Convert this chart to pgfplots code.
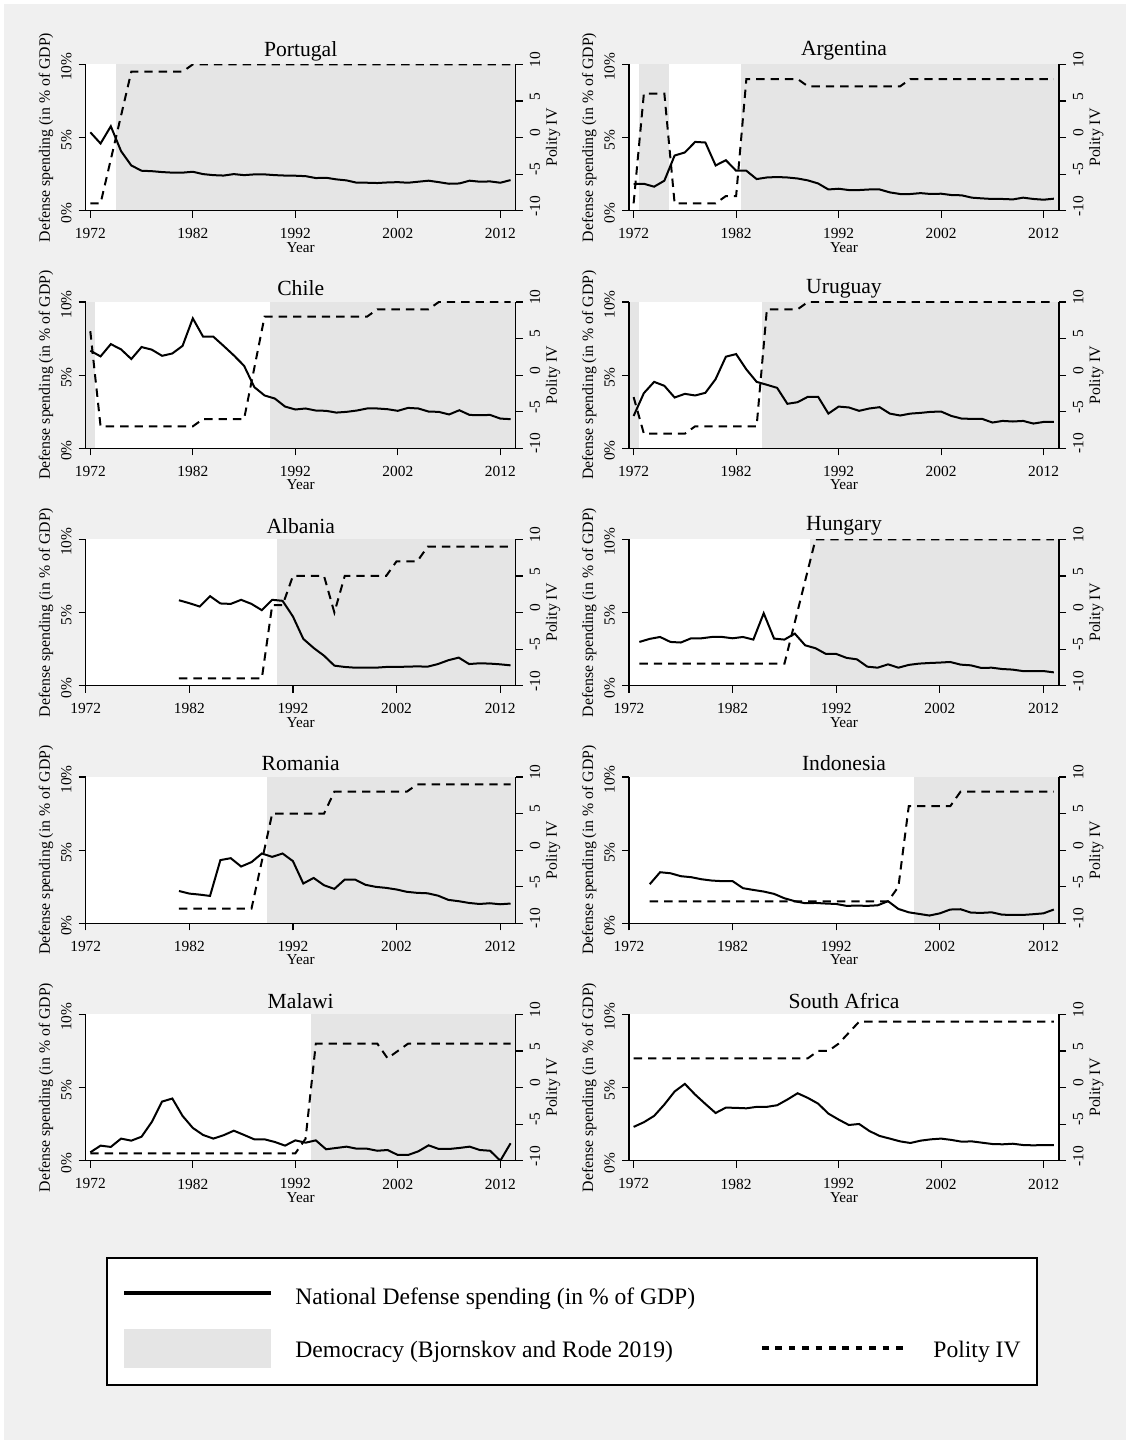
\documentclass[border=0pt]{standalone}
\usepackage{pgfplots}
\pgfplotsset{compat=1.18}
\usepackage{pgfplotstable}
\usepackage{fontspec}
\setmainfont{Liberation Serif}
\definecolor{bgcol}{RGB}{240,240,240}
\definecolor{demgray}{RGB}{229,229,229}

\pgfplotstableread{
year spend polity
1972 5.36 -9
1973 4.59 -9
1974 5.77 nan
1975 4.07 nan
1976 3.09 9
1977 2.73 9
1978 2.70 9
1979 2.64 9
1980 2.60 9
1981 2.60 9
1982 2.66 10
1983 2.50 10
1984 2.43 10
1985 2.40 10
1986 2.50 10
1987 2.43 10
1988 2.48 10
1989 2.48 10
1990 2.43 10
1991 2.40 10
1992 2.39 10
1993 2.36 10
1994 2.23 10
1995 2.25 10
1996 2.14 10
1997 2.07 10
1998 1.91 10
1999 1.91 10
2000 1.89 10
2001 1.93 10
2002 1.95 10
2003 1.91 10
2004 1.98 10
2005 2.05 10
2006 1.95 10
2007 1.84 10
2008 1.86 10
2009 2.05 10
2010 1.98 10
2011 2.00 10
2012 1.91 10
2013 2.09 10
}\tabPortugal

\pgfplotstableread{
year spend polity
1972 1.82 -9
1973 1.84 6
1974 1.64 6
1975 2.05 6
1976 3.77 -9
1977 3.98 -9
1978 4.70 -9
1979 4.66 -9
1980 3.09 -9
1981 3.45 -8
1982 2.73 -8
1983 2.73 8
1984 2.16 8
1985 2.27 8
1986 2.30 8
1987 2.27 8
1988 2.20 8
1989 2.07 7
1990 1.86 7
1991 1.45 7
1992 1.50 7
1993 1.41 7
1994 1.41 7
1995 1.45 7
1996 1.45 7
1997 1.25 7
1998 1.14 7
1999 1.14 8
2000 1.20 8
2001 1.14 8
2002 1.16 8
2003 1.07 8
2004 1.05 8
2005 0.89 8
2006 0.84 8
2007 0.80 8
2008 0.80 8
2009 0.77 8
2010 0.89 8
2011 0.80 8
2012 0.75 8
2013 0.82 8
}\tabArgentina

\pgfplotstableread{
year spend polity
1972 6.67 6
1973 6.28 -7
1974 7.12 -7
1975 6.76 -7
1976 6.10 -7
1977 6.92 -7
1978 6.74 -7
1979 6.32 -7
1980 6.48 -7
1981 7.00 -7
1982 8.88 -7
1983 7.63 -6
1984 7.63 -6
1985 7.00 -6
1986 6.35 -6
1987 5.64 -6
1988 4.18 nan
1989 3.61 8
1990 3.40 8
1991 2.85 8
1992 2.65 8
1993 2.72 8
1994 2.58 8
1995 2.56 8
1996 2.44 8
1997 2.49 8
1998 2.58 8
1999 2.72 8
2000 2.72 9
2001 2.67 9
2002 2.56 9
2003 2.76 9
2004 2.72 9
2005 2.51 9
2006 2.49 10
2007 2.31 10
2008 2.60 10
2009 2.28 10
2010 2.26 10
2011 2.28 10
2012 2.03 10
2013 1.99 10
}\tabChile

\pgfplotstableread{
year spend polity
1972 2.21 -3
1973 3.77 -8
1974 4.54 -8
1975 4.27 -8
1976 3.47 -8
1977 3.72 -8
1978 3.61 -7
1979 3.79 -7
1980 4.73 -7
1981 6.26 -7
1982 6.44 -7
1983 5.39 -7
1984 4.54 -7
1985 4.34 9
1986 4.13 9
1987 3.04 9
1988 3.15 9
1989 3.52 10
1990 3.52 10
1991 2.37 10
1992 2.85 10
1993 2.79 10
1994 2.56 10
1995 2.72 10
1996 2.81 10
1997 2.37 10
1998 2.24 10
1999 2.37 10
2000 2.42 10
2001 2.49 10
2002 2.51 10
2003 2.21 10
2004 2.03 10
2005 2.01 10
2006 2.01 10
2007 1.76 10
2008 1.87 10
2009 1.83 10
2010 1.87 10
2011 1.69 10
2012 1.80 10
2013 1.80 10
}\tabUruguay

\pgfplotstableread{
year spend polity
1981 5.84 -9
1982 5.64 -9
1983 5.41 -9
1984 6.12 -9
1985 5.62 -9
1986 5.59 -9
1987 5.87 -9
1988 5.59 -9
1989 5.16 -9
1990 5.87 1
1991 5.80 1
1992 4.73 5
1993 3.20 5
1994 2.58 5
1995 2.05 5
1996 1.37 0
1997 1.28 5
1998 1.23 5
1999 1.23 5
2000 1.23 5
2001 1.28 5
2002 1.28 7
2003 1.30 7
2004 1.32 7
2005 1.30 9
2006 1.48 9
2007 1.74 9
2008 1.92 9
2009 1.48 9
2010 1.53 9
2011 1.51 9
2012 1.46 9
2013 1.39 9
}\tabAlbania

\pgfplotstableread{
year spend polity
1973 2.99 -7
1974 3.20 -7
1975 3.33 -7
1976 2.99 -7
1977 2.95 -7
1978 3.24 -7
1979 3.24 -7
1980 3.33 -7
1981 3.33 -7
1982 3.24 -7
1983 3.33 -7
1984 3.15 -7
1985 4.95 -7
1986 3.22 -7
1987 3.15 -7
1988 3.56 nan
1989 2.76 nan
1990 2.56 10
1991 2.17 10
1992 2.17 10
1993 1.90 10
1994 1.80 10
1995 1.30 10
1996 1.23 10
1997 1.46 10
1998 1.23 10
1999 1.42 10
2000 1.51 10
2001 1.55 10
2002 1.58 10
2003 1.62 10
2004 1.44 10
2005 1.39 10
2006 1.21 10
2007 1.23 10
2008 1.14 10
2009 1.10 10
2010 1.00 10
2011 1.00 10
2012 1.00 10
2013 0.91 10
}\tabHungary

\pgfplotstableread{
year spend polity
1981 2.21 -8
1982 2.03 -8
1983 1.96 -8
1984 1.87 -8
1985 4.32 -8
1986 4.45 -8
1987 3.88 -8
1988 4.18 -8
1989 4.77 nan
1990 4.54 5
1991 4.77 5
1992 4.25 5
1993 2.72 5
1994 3.10 5
1995 2.60 5
1996 2.35 8
1997 2.99 8
1998 2.99 8
1999 2.63 8
2000 2.49 8
2001 2.42 8
2002 2.31 8
2003 2.15 8
2004 2.08 9
2005 2.05 9
2006 1.89 9
2007 1.60 9
2008 1.51 9
2009 1.39 9
2010 1.32 9
2011 1.37 9
2012 1.30 9
2013 1.35 9
}\tabRomania

\pgfplotstableread{
year spend polity
1974 2.67 -7
1975 3.49 -7
1976 3.42 -7
1977 3.22 -7
1978 3.15 -7
1979 3.01 -7
1980 2.92 -7
1981 2.88 -7
1982 2.88 -7
1983 2.40 -7
1984 2.28 -7
1985 2.17 -7
1986 2.01 -7
1987 1.71 -7
1988 1.51 -7
1989 1.37 -7
1990 1.39 -7
1991 1.35 -7
1992 1.32 -7
1993 1.19 -7
1994 1.21 -7
1995 1.19 -7
1996 1.23 -7
1997 1.51 -7
1998 0.98 -5
1999 0.75 6
2000 0.64 6
2001 0.53 6
2002 0.68 6
2003 0.94 6
2004 0.96 8
2005 0.73 8
2006 0.71 8
2007 0.75 8
2008 0.59 8
2009 0.57 8
2010 0.57 8
2011 0.62 8
2012 0.68 8
2013 0.94 8
}\tabIndonesia

\pgfplotstableread{
year spend polity
1972 0.57 -9
1973 1.03 -9
1974 0.94 -9
1975 1.51 -9
1976 1.37 -9
1977 1.64 -9
1978 2.65 -9
1979 4.04 -9
1980 4.25 -9
1981 3.06 -9
1982 2.24 -9
1983 1.76 -9
1984 1.51 -9
1985 1.74 -9
1986 2.05 -9
1987 1.76 -9
1988 1.46 -9
1989 1.46 -9
1990 1.28 -9
1991 1.03 -9
1992 1.39 -9
1993 1.23 -7
1994 1.39 6
1995 0.78 6
1996 0.87 6
1997 0.96 6
1998 0.82 6
1999 0.82 6
2000 0.68 6
2001 0.73 4
2002 0.39 5
2003 0.39 6
2004 0.64 6
2005 1.05 6
2006 0.80 6
2007 0.80 6
2008 0.87 6
2009 0.96 6
2010 0.73 6
2011 0.68 6
2012 0.00 6
2013 1.19 6
}\tabMalawi

\pgfplotstableread{
year spend polity
1972 2.31 4
1973 2.63 4
1974 3.06 4
1975 3.84 4
1976 4.73 4
1977 5.25 4
1978 4.52 4
1979 3.88 4
1980 3.26 4
1981 3.63 4
1982 3.61 4
1983 3.58 4
1984 3.68 4
1985 3.68 4
1986 3.79 4
1987 4.18 4
1988 4.61 4
1989 4.29 4
1990 3.90 5
1991 3.22 5
1992 2.81 6
1993 2.44 nan
1994 2.51 9
1995 2.03 9
1996 1.69 9
1997 1.51 9
1998 1.32 9
1999 1.21 9
2000 1.37 9
2001 1.46 9
2002 1.51 9
2003 1.42 9
2004 1.30 9
2005 1.32 9
2006 1.23 9
2007 1.14 9
2008 1.12 9
2009 1.16 9
2010 1.07 9
2011 1.05 9
2012 1.07 9
2013 1.07 9
}\tabSouthAfrica

\pgfplotsset{
  base/.style={
    scale only axis, width=215pt, height=73.15pt, anchor=south west,
    xmax=2013.5,
    tick align=outside, major tick length=3.5pt,
    every tick/.style={black, line width=0.6pt},
    axis line style={black, line width=0.6pt},
    ticklabel style={font=\fontsize{7.7}{8.5}\selectfont},
    /pgf/number format/1000 sep={},
  },
  lefta/.style={base,
    axis x line*=bottom, axis y line*=left,
    axis background/.style={fill=white},
    ymin=0, ymax=10, ytick={0,5,10}, yticklabels={0\%,5\%,10\%},
    xtick={1972,1982,1992,2002,2012}, xticklabels={1972,1982,1992,2002,2012},
    yticklabel style={rotate=90, anchor=south, xshift=-1.2pt},
    xticklabel style={anchor=north, yshift=-2pt},
    xlabel={Year}, ylabel={Defense spending (in \% of GDP)},
    every axis x label/.style={at={(axis description cs:0.5,-0.2505)}, anchor=center, font=\fontsize{7.6}{9}\selectfont},
    every axis y label/.style={at={(axis description cs:-0.0923,0.5)}, anchor=center, rotate=90, font=\fontsize{7.9}{9}\selectfont},
    every axis title shift=0pt,
    title style={at={(axis description cs:0.5,1.092)}, anchor=center, font=\fontsize{10.8}{12}\selectfont},
    axis on top,
  },
  righta/.style={base,
    axis x line=none, axis y line*=right,
    ymin=-10, ymax=10, ytick={-10,-5,0,5,10}, yticklabels={-10,-5,0,5,10},
    yticklabel style={rotate=90, anchor=north, xshift=2.4pt},
    ylabel={Polity IV},
    every axis y label/.style={at={(axis description cs:1.0867,0.5)}, anchor=center, rotate=90, font=\fontsize{7.9}{9}\selectfont},
  },
}

\newcommand{\dem}[2]{\addplot[fill=demgray, draw=none, forget plot] coordinates {(#1,0) (#1,10) (#2,10) (#2,0)} -- cycle;}

\newcommand{\panel}[6]{%
  \begin{axis}[lefta, at={(#1,#2)}, xmin=#3, title={#4}]
    #6
    \addplot[line width=1pt, black, unbounded coords=discard] table[x=year,y=spend] {#5};
  \end{axis}
  \begin{axis}[righta, at={(#1,#2)}, xmin=#3]
    \addplot[line width=1pt, black, dash pattern=on 4.2pt off 3pt, unbounded coords=discard] table[x=year,y=polity] {#5};
  \end{axis}%
}

\begin{document}
\begin{tikzpicture}
\useasboundingbox (0pt,0pt) rectangle (565pt,722pt);
\fill[white] (0pt,0pt) rectangle (565pt,722pt);
\fill[bgcol] (2pt,2pt) rectangle (563pt,720pt);

\panel{42.85pt}{616.65pt}{1971.55}{Portugal}{\tabPortugal}{\dem{1974.5}{2013.5}}
\panel{314.5pt}{616.65pt}{1971.55}{Argentina}{\tabArgentina}{\dem{1972.5}{1975.5}\dem{1982.5}{2013.5}}
\panel{42.85pt}{497.85pt}{1971.55}{Chile}{\tabChile}{\dem{1971.55}{1972.5}\dem{1989.5}{2013.5}}
\panel{314.5pt}{497.85pt}{1971.55}{Uruguay}{\tabUruguay}{\dem{1971.55}{1972.5}\dem{1984.5}{2013.5}}
\panel{42.85pt}{379.15pt}{1972}{Albania}{\tabAlbania}{\dem{1990.5}{2013.5}}
\panel{314.5pt}{379.15pt}{1972}{Hungary}{\tabHungary}{\dem{1989.5}{2013.5}}
\panel{42.85pt}{260.35pt}{1972}{Romania}{\tabRomania}{\dem{1989.5}{2013.5}}
\panel{314.5pt}{260.35pt}{1972}{Indonesia}{\tabIndonesia}{\dem{1999.5}{2013.5}}
\panel{42.85pt}{141.65pt}{1971.55}{Malawi}{\tabMalawi}{\dem{1993.5}{2013.5}}
\panel{314.5pt}{141.65pt}{1971.55}{South Africa}{\tabSouthAfrica}{}

% legend
\draw[line width=0.9pt, fill=white] (53.5pt,29.5pt) rectangle (518.5pt,93pt);
\draw[line width=2pt] (62pt,75.5pt) -- (135.5pt,75.5pt);
\node[anchor=west, inner sep=0pt, font=\fontsize{11.8}{13}\selectfont] at (147.5pt,72.6pt) {National Defense spending (in \% of GDP)};
\fill[demgray] (62pt,38pt) rectangle (135.5pt,57.5pt);
\node[anchor=west, inner sep=0pt, font=\fontsize{11.8}{13}\selectfont] at (147.5pt,46.2pt) {Democracy (Bjornskov and Rode 2019)};
\draw[line width=2pt, dash pattern=on 3.3pt off 3.4pt] (381pt,48pt) -- (451.5pt,48pt);
\node[anchor=west, inner sep=0pt, font=\fontsize{11.8}{13}\selectfont] at (466.5pt,46.2pt) {Polity IV};
\end{tikzpicture}
\end{document}
